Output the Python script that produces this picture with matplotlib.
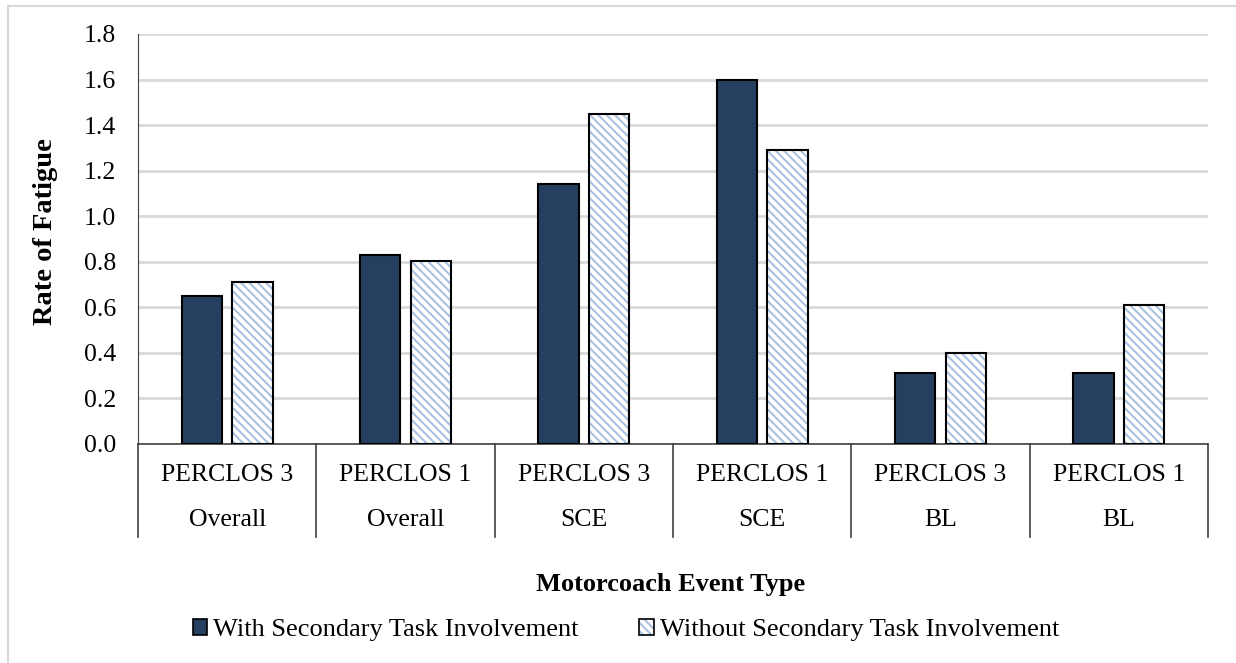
import matplotlib.pyplot as plt
import numpy as np
from matplotlib.patches import Patch
from matplotlib.lines import Line2D

plt.rcParams['font.family'] = ['Liberation Serif', 'DejaVu Serif']
plt.rcParams['hatch.linewidth'] = 1.5

measures = ['PERCLOS 3', 'PERCLOS 1', 'PERCLOS 3', 'PERCLOS 1', 'PERCLOS 3', 'PERCLOS 1']
events = ['Overall', 'Overall', 'SCE', 'SCE', 'BL', 'BL']
with_task = [0.65, 0.83, 1.14, 1.60, 0.31, 0.31]
without_task = [0.71, 0.805, 1.45, 1.29, 0.40, 0.61]
series_names = ['With Secondary Task Involvement', 'Without Secondary Task Involvement']

dark = '#243f60'
hatch_col = '#a9c1e0'

fig = plt.figure(figsize=(12.36, 6.63), dpi=100)
ax = fig.add_axes([138/1236, 1 - 444/663, (1208-138)/1236, 410/663])

x = np.arange(len(measures))
w = 0.225
off = 0.142
ax.bar(x - off, with_task, w, color=dark, edgecolor='black', linewidth=1.5, zorder=3)
ax.bar(x + off, without_task, w, color='white', edgecolor=hatch_col, hatch='\\\\\\\\', linewidth=0, zorder=3)
ax.bar(x + off, without_task, w, fill=False, edgecolor='black', linewidth=1.5, zorder=4)

ax.set_xlim(-0.5, len(measures) - 0.5)
ax.set_ylim(0, 1.8)
ax.set_yticks(np.arange(0, 1.81, 0.2))
ax.set_yticklabels([f'{v:.1f}' for v in np.arange(0, 1.81, 0.2)])
ax.tick_params(axis='y', length=0, labelsize=18.5, pad=16)
ax.set_xticks([])
ax.grid(axis='y', color='#d9d9d9', linewidth=2, zorder=0)
for s in ['top', 'right']:
    ax.spines[s].set_visible(False)
ax.spines['left'].set_color('#404040')
ax.spines['bottom'].set_color('#404040')
ax.spines['bottom'].set_linewidth(1.2)
ax.set_ylabel('Rate of Fatigue', fontsize=20.5, fontweight='bold')
ax.yaxis.set_label_coords(-(138 - 58) / 1070, 0.517)

# two-row category labels
tr = ax.get_xaxis_transform()
for i in range(len(measures) + 1):
    ax.add_line(Line2D([i - 0.5, i - 0.5], [0, -0.228], transform=tr, color='#404040',
                       linewidth=1.2, clip_on=False))
for i in range(len(measures)):
    ax.text(i, -0.076, measures[i], transform=tr, ha='center', va='center', fontsize=18.5)
    ax.text(i, -0.186, events[i], transform=tr, ha='center', va='center', fontsize=18.5)

fig.text(671/1236, 1 - 585/663, 'Motorcoach Event Type', ha='center', va='center',
         fontsize=19, fontweight='bold')

h1 = Patch(facecolor=dark, edgecolor='black', linewidth=1.2)
h2 = (Patch(facecolor='white', edgecolor=hatch_col, hatch='\\\\\\\\', linewidth=0),
      Patch(fill=False, edgecolor='black', linewidth=1.2))
fig.legend([h1, h2], series_names, loc='center', bbox_to_anchor=(626/1236, 1 - 630/663),
           ncol=2, frameon=False, fontsize=19, handlelength=0.55, handleheight=0.55,
           handletextpad=0.22, columnspacing=2.3)

# figure border
fig.add_artist(Line2D([8/1236, 1], [1 - 6/663, 1 - 6/663], transform=fig.transFigure,
                      color='#d9d9d9', linewidth=1.5))
fig.add_artist(Line2D([8/1236, 8/1236], [0, 1 - 6/663], transform=fig.transFigure,
                      color='#d9d9d9', linewidth=1.5))

fig.savefig('out.png', dpi=100)
